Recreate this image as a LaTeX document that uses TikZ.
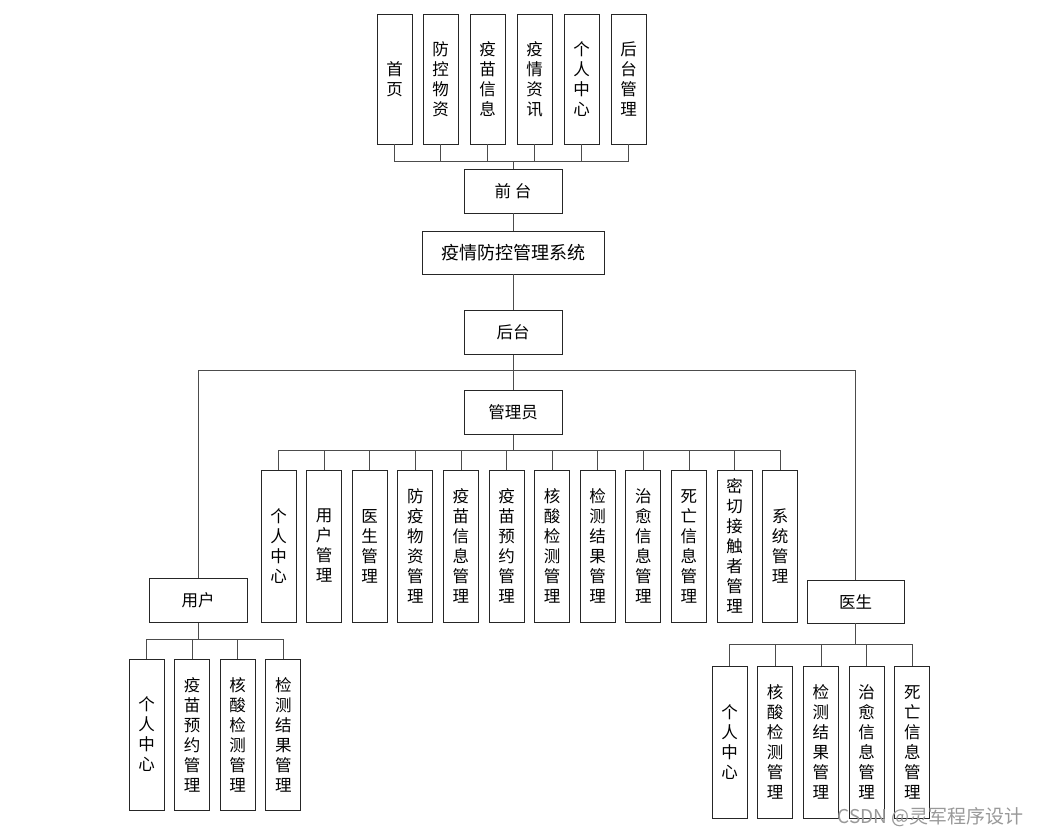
\documentclass[tikz,border=0pt]{standalone}
\usepackage{fontspec}
\setmainfont{Noto Sans CJK SC}
\begin{document}
\begin{tikzpicture}[x=1pt,y=-1pt,
  box/.style={draw=black!85, line width=0.9pt, fill=white, inner sep=0pt, align=center,
    font=\fontsize{16.5}{20}\selectfont},
  vbox/.style={box, minimum width=35pt, minimum height=#1},
  hbox/.style={box, minimum width=98pt, minimum height=44pt},
  conn/.style={draw=black!70, line width=0.8pt}]
\useasboundingbox[fill=white] (0,0) rectangle (1039,836);

% top (front) modules
\foreach \i/\x/\t in {1/394.5/首\\页, 2/440.5/防\\控\\物\\资, 3/487.5/疫\\苗\\信\\息,
  4/534.5/疫\\情\\资\\讯, 5/581.5/个\\人\\中\\心, 6/628.5/后\\台\\管\\理}
  \node[vbox=130pt] (t\i) at (\x,79) {\t};

\node[hbox] (qt) at (513,191) {前\hspace{4pt}台};
\node[box, minimum width=182pt, minimum height=43pt, font=\fontsize{18}{20}\selectfont] (sys) at (513,252.5) {疫情防控管理系统};
\node[hbox] (ht) at (513,332.5) {后台};
\node[hbox] (gly) at (513,412.5) {管理员};
\node[hbox] (yh) at (198,600.5) {用户};
\node[box, minimum width=97pt, minimum height=43pt] (ys) at (855.5,601.5) {医生};

% admin modules
\foreach \i/\x/\t in {1/278.5/个\\人\\中\\心, 2/324.1/用\\户\\管\\理, 3/369.7/医\\生\\管\\理,
  4/415.3/防\\疫\\物\\资\\管\\理, 5/460.9/疫\\苗\\信\\息\\管\\理, 6/506.5/疫\\苗\\预\\约\\管\\理,
  7/552.1/核\\酸\\检\\测\\管\\理, 8/597.7/检\\测\\结\\果\\管\\理, 9/643.3/治\\愈\\信\\息\\管\\理,
  10/688.9/死\\亡\\信\\息\\管\\理, 11/734.5/密\\切\\接\\触\\者\\管\\理, 12/780.1/系\\统\\管\\理}
  \node[vbox=152pt] (a\i) at (\x,546) {\t};

% user modules
\foreach \i/\x/\t in {1/146.5/个\\人\\中\\心, 2/192.1/疫\\苗\\预\\约\\管\\理,
  3/237.7/核\\酸\\检\\测\\管\\理, 4/283.3/检\\测\\结\\果\\管\\理}
  \node[vbox=151pt] (u\i) at (\x,734.5) {\t};

% doctor modules
\foreach \i/\x/\t in {1/729.5/个\\人\\中\\心, 2/775.2/核\\酸\\检\\测\\管\\理,
  3/820.9/检\\测\\结\\果\\管\\理, 4/866.6/治\\愈\\信\\息\\管\\理, 5/912.3/死\\亡\\信\\息\\管\\理}
  \node[vbox=152pt] (d\i) at (\x,742) {\t};

% hubs
\coordinate (tb) at (513,161);
\coordinate (hb) at (513,370);
\coordinate (ab) at (513,450);
\coordinate (ub) at (198,639);
\coordinate (db) at (855.5,644);

% connectors
\foreach \i in {1,...,6} \draw[conn] (t\i.south) |- (tb);
\draw[conn] (tb) -- (qt.north);
\draw[conn] (qt.south) -- (sys.north);
\draw[conn] (sys.south) -- (ht.north);
\draw[conn] (ht.south) -- (gly.north);
\draw[conn] (yh.north) |- (hb);
\draw[conn] (ys.north) |- (hb);
\foreach \i in {1,...,12} \draw[conn] (a\i.north) |- (ab);
\draw[conn] (gly.south) -- (ab);
\foreach \i in {1,...,4} \draw[conn] (u\i.north) |- (ub);
\draw[conn] (yh.south) -- (ub);
\foreach \i in {1,...,5} \draw[conn] (d\i.north) |- (db);
\draw[conn] (ys.south) -- (db);

% watermark
\node[text=black!40, font=\fontsize{19}{22}\selectfont, anchor=east, inner sep=0pt] (wm) at (1024,817) {CSDN @灵军程序设计};
\end{tikzpicture}
\end{document}
